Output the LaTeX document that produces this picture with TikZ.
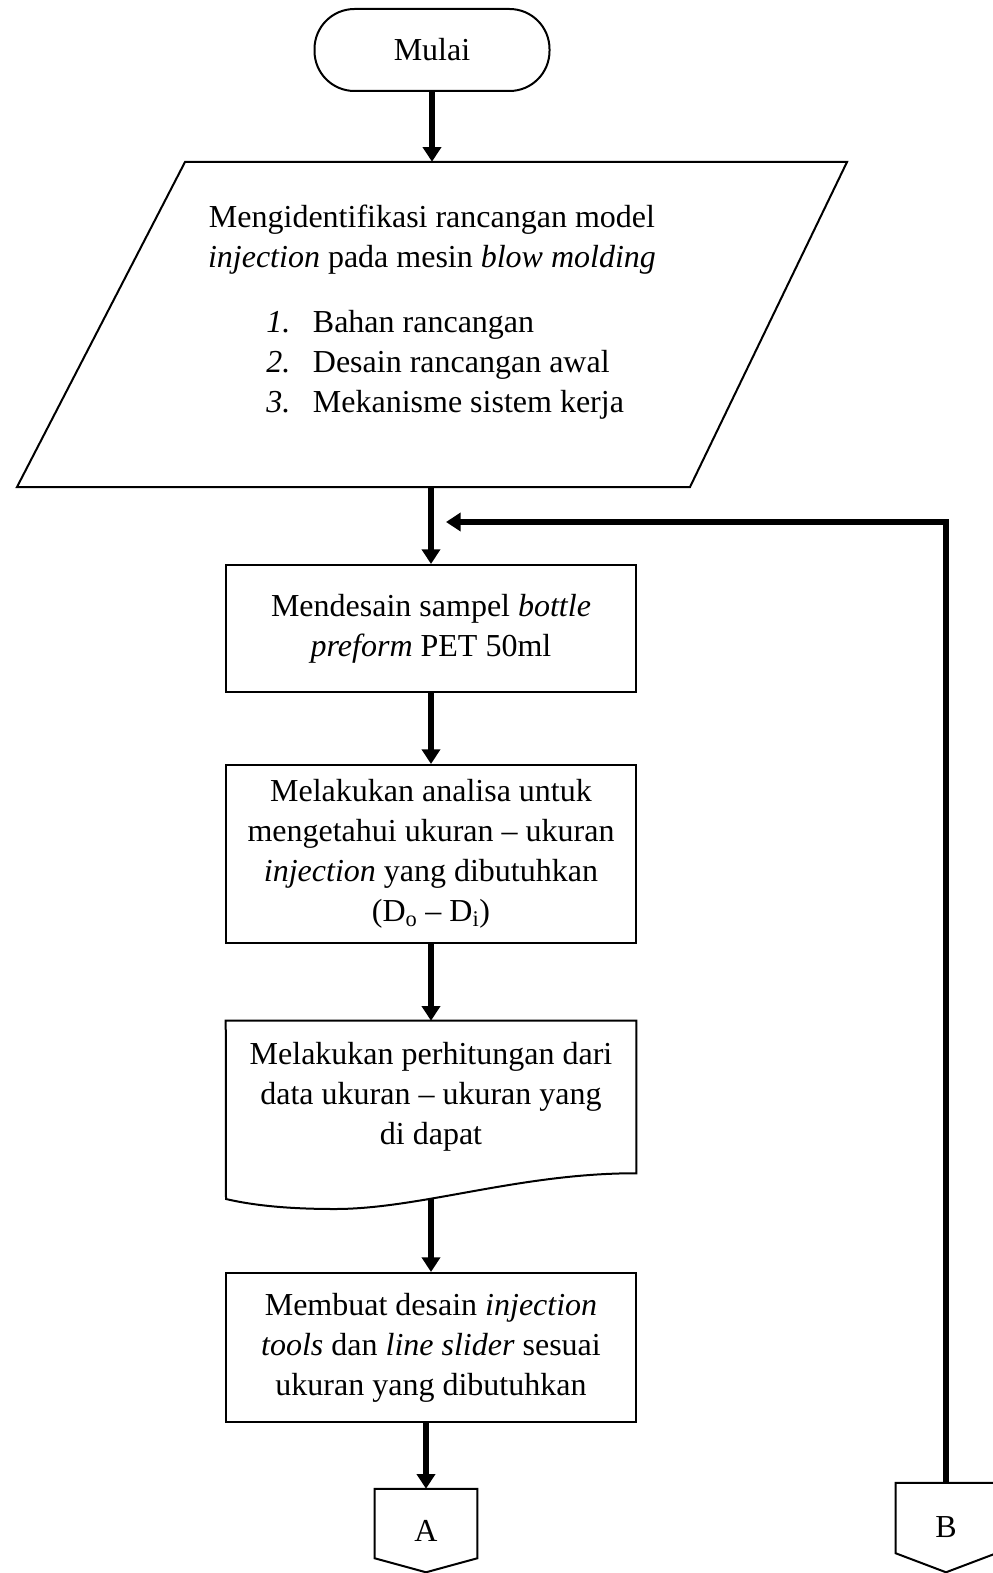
\documentclass[tikz,border=0pt]{standalone}
\usepackage{fontspec}
\setmainfont{Liberation Serif}
\usetikzlibrary{arrows.meta,calc}
\begin{document}
\begin{tikzpicture}[x=0.75pt,y=-0.75pt,
  txt/.style={font=\fontsize{24pt}{30pt}\selectfont, align=center},
  shp/.style={draw=black, line width=1.5pt, line join=miter},
  procbox/.style={shp, txt, rectangle, minimum width=307.5pt, inner sep=0pt},
  arr/.style={line width=4pt, line join=miter, -{Triangle[length=11pt,width=13.5pt]}},
  ghost/.style={txt, inner sep=0pt},
]
\useasboundingbox (0,0) rectangle (992,1573);

% start
\node[shp, txt, rounded corners=30pt, minimum width=176.25pt, minimum height=61.5pt] (start) at (432,50) {Mulai};

% input parallelogram
\node[ghost, minimum width=622.5pt, minimum height=243.75pt] (input) at (432,324.5) {};
\draw[shp] (185,162) -- (847,162) -- (690,487) -- (17,487) -- cycle;
\node[txt] (inputtitle) at (432,240) {Mengidentifikasi rancangan model\\ \textit{injection} pada mesin \textit{blow molding}};
\node[ghost, anchor=west] (inputlist) at (266,364) {\begin{tabular}{@{}r@{\hspace{17pt}}l@{}}
\textit{1.} & Bahan rancangan\\
\textit{2.} & Desain rancangan awal\\
\textit{3.} & Mekanisme sistem kerja
\end{tabular}};

% process boxes
\node[procbox, minimum height=95.25pt] (box1) at (431,628.5) {Mendesain sampel \textit{bottle}\\ \textit{preform} PET 50ml};
\node[procbox, minimum height=133.5pt] (box2) at (431,854) {Melakukan analisa untuk\\ mengetahui ukuran -- ukuran\\ \textit{injection} yang dibutuhkan\\ (D\textsubscript{o} -- D\textsubscript{i})};

% document
\node[ghost, minimum width=307.5pt, minimum height=114pt] (doc) at (431,1097) {Melakukan perhitungan dari\\ data ukuran -- ukuran yang\\ di dapat};
\draw[shp] (doc.south east) -- (doc.north east) -- (doc.north west) -- (226,1199)
  .. controls (260,1207) and (300,1209) .. (335,1209)
  .. controls (420,1209) and (520,1173) .. (doc.south east) -- cycle;
\coordinate (docout) at (431,1199);

\node[procbox, minimum height=111.75pt] (box3) at (431,1347.5) {Membuat desain \textit{injection}\\ \textit{tools} dan \textit{line slider} sesuai\\ ukuran yang dibutuhkan};

% off-page connectors
\node[ghost, minimum width=76.5pt, minimum height=62.25pt] (A) at (426,1530.5) {A};
\draw[shp] (A.north west) -- (A.north east) -- ([yshift=10.5pt]A.south east) -- (A.south) -- ([yshift=10.5pt]A.south west) -- cycle;
\node[ghost, minimum width=75pt, minimum height=66.75pt] (B) at (946,1527.5) {B};
\draw[shp] (B.north west) -- (B.north east) -- ([yshift=14.25pt]B.south east) -- (B.south) -- ([yshift=14.25pt]B.south west) -- cycle;

% connectors
\draw[arr] (start) -- (start |- input.north);
\draw[arr] (input.south -| box1.north) -- (box1);
\draw[arr] (box1) -- (box2);
\draw[arr] (box2) -- (doc);
\draw[arr] (docout) -- (box3);
\draw[arr] (box3.south -| A.north) -- (A);
\coordinate (fb) at (446,522);
\draw[arr] (B.north) -- (B.north |- fb) -- (fb);
\end{tikzpicture}
\end{document}
